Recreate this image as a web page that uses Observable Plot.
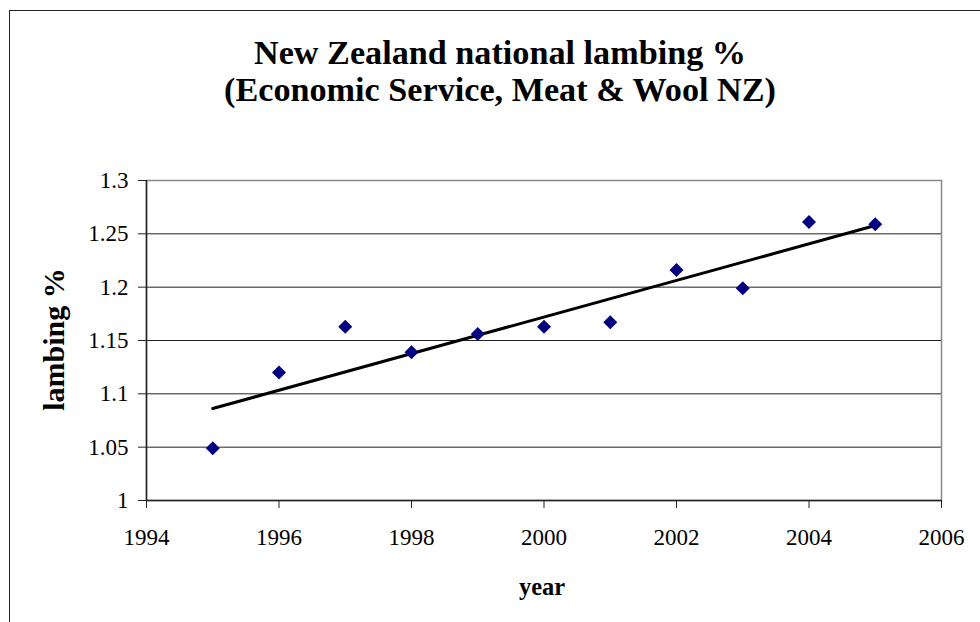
<!DOCTYPE html>
<html>
<head>
<meta charset="utf-8">
<script src="https://cdn.jsdelivr.net/npm/d3@7"></script>
<script src="https://cdn.jsdelivr.net/npm/@observablehq/plot@0.6"></script>
<style>
  html, body { margin: 0; padding: 0; background: #fff; overflow: hidden; }
  #wrap { position: relative; width: 980px; height: 622px; }
  #frame { position: absolute; left: 9px; top: 10px; width: 1200px; height: 800px; border-left: 1.5px solid #222; border-top: 1.5px solid #222; box-sizing: border-box; }
  #title { position: absolute; left: 0; width: 1000px; top: 35px; text-align: center; font-family: "Liberation Serif", "Times New Roman", serif; font-weight: bold; font-size: 34.2px; line-height: 36.5px; color: #000; }
  #chart { position: absolute; left: 0; top: 0; }
</style>
</head>
<body>
<div id="wrap">
  <div id="frame"></div>
  <div id="chart"></div>
  <div id="title">New Zealand national lambing %<br>(Economic Service, Meat &amp; Wool NZ)</div>
</div>
<script>
const years = [1995, 1996, 1997, 1998, 1999, 2000, 2001, 2002, 2003, 2004, 2005];
const lambing = [1.049, 1.120, 1.163, 1.139, 1.156, 1.163, 1.167, 1.216, 1.199, 1.261, 1.259];
const xTicks = [1994, 1996, 1998, 2000, 2002, 2004, 2006];
const yTicks = [1, 1.05, 1.1, 1.15, 1.2, 1.25, 1.3];
const yTickLabels = ["1", "1.05", "1.1", "1.15", "1.2", "1.25", "1.3"];
const xLabel = "year";
const yLabel = "lambing %";

const data = years.map((y, i) => ({year: y, value: lambing[i]}));
const yFmt = d => yTickLabels[yTicks.findIndex(t => Math.abs(t - d) < 1e-9)];

const chart = Plot.plot({
  width: 980,
  height: 622,
  marginLeft: 146,
  marginRight: 39,
  marginTop: 180,
  marginBottom: 122,
  style: {fontFamily: "'Liberation Serif', 'Times New Roman', serif", fontSize: "23px", color: "#000", background: "transparent"},
  x: {domain: [1994, 2006], ticks: xTicks, tickFormat: d => String(d)},
  y: {domain: [1, 1.3], ticks: yTicks, tickFormat: yFmt},
  marks: [
    Plot.gridY(yTicks, {stroke: "#222", strokeOpacity: 1, strokeWidth: 1}),
    Plot.frame({stroke: "#888", strokeWidth: 1.5}),
    Plot.ruleX([1994], {stroke: "#222", strokeWidth: 1.5}),
    Plot.ruleY([1], {stroke: "#222", strokeWidth: 1.5}),
    Plot.axisX({ticks: xTicks, tickSize: 8, tickPadding: 20, label: null, tickFormat: d => String(d), stroke: "#222"}),
    Plot.axisY({ticks: yTicks, tickSize: 8, tickPadding: 10, label: null, stroke: "#222", tickFormat: yFmt}),
    Plot.linearRegressionY(data, {x: "year", y: "value", ci: 0, stroke: "#000", strokeWidth: 3}),
    Plot.dot(data, {x: "year", y: "value", symbol: "diamond2", r: 6.3, fill: "#000080", stroke: "none"}),
    Plot.text([xLabel], {frameAnchor: "bottom", dy: 94, dx: -2, text: d => d, fontWeight: "bold", fontSize: 24.5, lineAnchor: "bottom"}),
    Plot.text([yLabel], {frameAnchor: "left", textAnchor: "middle", dx: -92.6, dy: -1, text: d => d, fontWeight: "bold", fontSize: 30, rotate: -90})
  ]
});
document.getElementById("chart").appendChild(chart);
</script>
</body>
</html>
